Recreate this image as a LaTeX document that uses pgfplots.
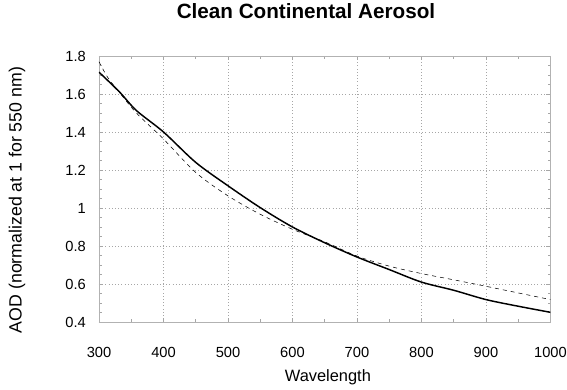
\documentclass[border=0pt]{standalone}
\usepackage{pgfplots}
\pgfplotsset{compat=1.18}
\usepackage{fontspec}
\setmainfont{Liberation Sans}
\begin{document}
\begin{tikzpicture}
\useasboundingbox (-74.25pt,-50.25pt) rectangle (351pt,241.5pt);
\begin{axis}[
  scale only axis,
  width=338.6pt, height=199.5pt,
  xmin=300, xmax=1000, ymin=0.4, ymax=1.8,
  xtick={300,400,...,1000},
  ytick={0.4,0.6,...,1.8},
  yticklabels={0.4,0.6,0.8,1,1.2,1.4,1.6,1.8},
  xticklabels={300,400,500,600,700,800,900,1000},
  minor x tick num=1, minor y tick num=3,
  tick align=inside, major tick length=3pt, minor tick length=2pt,
  tick style={gray!70, thin},
  axis line style={gray!60, thin},
  grid=major,
  major grid style={gray!70, dotted, line width=0.6pt},
  /pgf/number format/assume math mode=true,
  /pgf/number format/1000 sep={},
  ticklabel style={font=\fontsize{11}{12}\selectfont},
  xticklabel style={yshift=-15.5pt},
  yticklabel style={xshift=-6.4pt},
  title={\bfseries Clean Continental Aerosol},
  title style={at={(rel axis cs:0.4585,1.139)}, anchor=center, font=\fontsize{15.5}{17}\selectfont},
  xlabel={Wavelength},
  xlabel style={at={(rel axis cs:0.507,-0.207)}, anchor=center, font=\fontsize{12.3}{14}\selectfont},
  ylabel={AOD (normalized at 1 for 550 nm)},
  ylabel style={at={(rel axis cs:-0.1816,0.4586)}, anchor=center, rotate=0, font=\fontsize{13.3}{15}\selectfont},
]
\addplot[black, line width=1.1pt, smooth] coordinates {
(300,1.715) (332,1.61) (358,1.513) (400,1.40) (450,1.24) (500,1.117) (550,1.002)
(600,0.90) (650,0.817) (700,0.742) (750,0.676) (800,0.61) (850,0.567) (900,0.518)
(950,0.483) (1000,0.451)};
\addplot[black, thin, dash pattern=on 3pt off 3pt, smooth] coordinates {
(300,1.77) (313,1.69) (330,1.615) (358,1.50) (400,1.363) (450,1.187) (500,1.064) (550,0.967)
(600,0.888) (650,0.822) (700,0.747) (750,0.694) (800,0.655) (850,0.622) (900,0.588)
(950,0.553) (1000,0.518)};
\end{axis}
\end{tikzpicture}
\end{document}
